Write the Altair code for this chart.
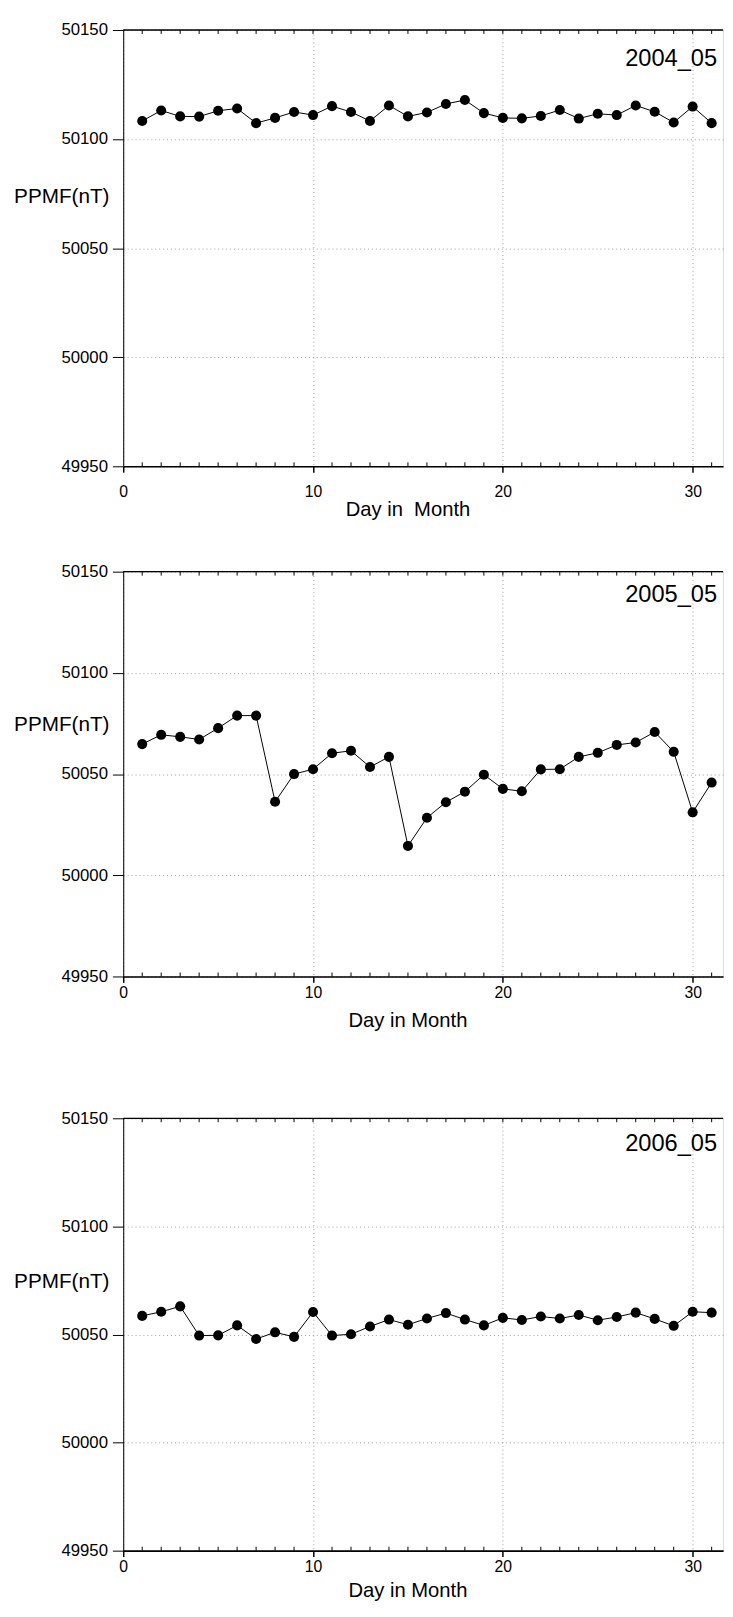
import altair as alt
import pandas as pd

days = list(range(1, 32))
ppmf_2004_05 = [50108.3, 50113.1, 50110.4, 50110.3, 50113.0, 50114.0, 50107.3, 50109.7,
                50112.4, 50111.0, 50115.1, 50112.4, 50108.3, 50115.4, 50110.4, 50112.2,
                50116.1, 50117.9, 50111.9, 50109.7, 50109.5, 50110.6, 50113.3, 50109.4,
                50111.6, 50111.0, 50115.4, 50112.5, 50107.6, 50114.9, 50107.3]
ppmf_2005_05 = [50064.8, 50069.4, 50068.4, 50067.1, 50072.7, 50078.9, 50078.9, 50036.3,
                50050.0, 50052.4, 50060.3, 50061.5, 50053.5, 50058.5, 50014.5, 50028.4,
                50036.1, 50041.3, 50049.7, 50042.7, 50041.5, 50052.3, 50052.4, 50058.5,
                50060.5, 50064.4, 50065.6, 50070.8, 50061.0, 50031.1, 50045.8]
ppmf_2006_05 = [50058.6, 50060.5, 50063.0, 50049.5, 50049.6, 50054.2, 50047.9, 50051.0,
                50048.9, 50060.4, 50049.5, 50050.1, 50053.7, 50056.9, 50054.5, 50057.4,
                50059.9, 50056.9, 50054.2, 50057.7, 50056.7, 50058.3, 50057.4, 50059.0,
                50056.6, 50058.1, 50060.1, 50057.2, 50054.0, 50060.5, 50060.1]
panel_labels = ["2004_05", "2005_05", "2006_05"]
x_titles = ["Day in\u00a0 Month", "Day in Month", "Day in Month"]
y_title = "PPMF(nT)"
x_ticks = [0, 10, 20, 30]
y_ticks = [49950, 50000, 50050, 50100, 50150]
minor_days = list(range(1, 32))

FONT = "Liberation Sans"
W = 609
XMAX = 31.6
YDOM = [49950, 50150]
PX_PER_DAY = W / XMAX


def panel(values, label, xtitle, H, ytitle_y, xtitle_y, label_pad, tag_y):
    df = pd.DataFrame({"day": days, "ppmf": values})
    x = alt.X(
        "day:Q",
        scale=alt.Scale(domain=[0, XMAX], nice=False, zero=False),
        axis=alt.Axis(
            values=x_ticks, format="d", title=None,
            tickSize=6, tickColor="black", tickWidth=1.5,
            domainColor="black", domainWidth=1.6,
            labelFont=FONT, labelFontSize=16, labelColor="black",
            labelPadding=label_pad, labelFlush=False,
            grid=True, gridColor="#a0a0a0", gridDash=[1, 3], gridWidth=1,
        ),
    )
    y = alt.Y(
        "ppmf:Q",
        scale=alt.Scale(domain=YDOM, nice=False, zero=False),
        axis=alt.Axis(
            values=y_ticks, format="d", title=None,
            tickSize=11, tickColor="black", tickWidth=1,
            domainColor="black", domainWidth=1,
            labelFont=FONT, labelFontSize=17, labelColor="black",
            labelPadding=5, labelFlush=False,
            grid=True, gridColor="#a0a0a0", gridDash=[1, 3], gridWidth=1,
        ),
    )
    base = alt.Chart(df).encode(x=x, y=y)
    line = base.mark_line(color="black", strokeWidth=1)
    pts = base.mark_circle(size=105, color="black", opacity=1)

    tdf = pd.DataFrame({"day": minor_days})
    top_ticks = alt.Chart(tdf).mark_rule(color="black", strokeWidth=1).encode(
        x="day:Q", y=alt.value(0), y2=alt.value(4)
    )
    bdf = pd.DataFrame({"day": [d for d in minor_days if d % 10 != 0]})
    bot_ticks = alt.Chart(bdf).mark_rule(color="black", strokeWidth=1).encode(
        x="day:Q", y=alt.value(H), y2=alt.value(H - 4)
    )
    top_border = alt.Chart(pd.DataFrame({"k": [0]})).mark_rule(
        color="black", strokeWidth=1.3
    ).encode(x=alt.value(0), x2=alt.value(W), y=alt.value(0))

    tdf2 = pd.DataFrame({"label": [label], "xt": [xtitle], "yt": [y_title]})
    tag = alt.Chart(tdf2).mark_text(
        align="right", baseline="alphabetic", fontSize=24, font=FONT, color="black"
    ).encode(x=alt.value(W - 6), y=alt.value(tag_y), text="label:N")
    xt = alt.Chart(tdf2).mark_text(
        align="center", baseline="alphabetic", fontSize=20.5, font=FONT, color="black"
    ).encode(x=alt.value(15 * PX_PER_DAY), y=alt.value(H + xtitle_y), text="xt:N")
    yt = alt.Chart(tdf2).mark_text(
        align="right", baseline="middle", fontSize=21, font=FONT, color="black"
    ).encode(x=alt.value(-14), y=alt.value(ytitle_y), text="yt:N")

    return alt.layer(line, pts, top_ticks, bot_ticks, top_border, tag, xt, yt).properties(
        width=W, height=H
    )


p1 = panel(ppmf_2004_05, panel_labels[0], x_titles[0], 443, 170, 50, 12, 37)
p2 = panel(ppmf_2005_05, panel_labels[1], x_titles[1], 411, 156, 51, 2, 31)
p3 = panel(ppmf_2006_05, panel_labels[2], x_titles[2], 439, 166, 47.5, 2, 33)

chart = alt.vconcat(
    alt.vconcat(p1, p2, spacing=42),
    p3,
    spacing=78,
).properties(
    padding={"left": 5, "top": 0, "right": 0, "bottom": 0}
).configure_view(
    stroke=None
).configure(background="white")

chart.save("out.html", embed_options={"renderer": "svg", "actions": False})
